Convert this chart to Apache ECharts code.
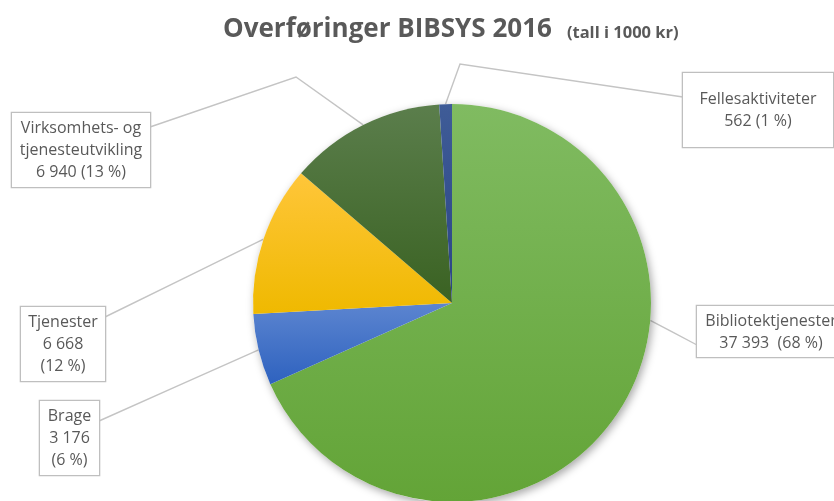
<!DOCTYPE html>
<html>
<head>
<meta charset="utf-8">
<title>Overføringer BIBSYS 2016</title>
<script src="https://cdn.jsdelivr.net/npm/echarts@6/dist/echarts.min.js"></script>
<style>
  html, body { margin: 0; padding: 0; background: #fff; }
  #chart { width: 834px; height: 501px; }
</style>
</head>
<body>
<div id="chart"></div>
<script>
// tall i 1000 kr
var categories = ['Bibliotektjenester', 'Brage', 'Tjenester', 'Virksomhets- og\ntjenesteutvikling', 'Fellesaktiviteter'];
var values = [37393, 3176, 6668, 6940, 562];
// narrow boxes put the percent on its own line
var percentOwnLine = [false, true, true, false, false];

// gradient colours, top -> bottom
var colorTop = ['#80bb61', '#5c85d0', '#ffc63a', '#5b7e4c', '#3f5c97'];
var colorBottom = ['#63a437', '#2e62bf', '#efb900', '#3a6222', '#2a4485'];

// label boxes: centre x, top y, content width, padding
var boxes = [
    {x: 771, y: 306, w: 134, pad: [4, 7, 3, 7]},
    {x: 69.5, y: 401, w: 47, pad: [4, 6]},
    {x: 63, y: 307, w: 72, pad: [4, 6]},
    {x: 81, y: 113, w: 126, pad: [4, 6]},
    {x: 758, y: 73, w: 126, pad: [15, 12]}
];
// leader lines: end on the box, optional knee, optional start angle on the rim
var guides = [
    {end: [697, 345], knee: null, angle: 95},
    {end: [99, 421], knee: null},
    {end: [105, 317], knee: null},
    {end: [150, 127], knee: [296, 77]},
    {end: [683, 97], knee: [460, 64]}
];

var cx = 452, cy = 303, r = 199;
var total = values.reduce(function (a, b) { return a + b; }, 0);

function fmt(n) {
    return String(n).replace(/\B(?=(\d{3})+(?!\d))/g, ' ');
}

var myChart = echarts.init(document.getElementById('chart'));

let data = values.map(function (v, i) {
    return {
        name: categories[i],
        value: v,
        itemStyle: {
            color: new echarts.graphic.LinearGradient(0, 0, 0, 1, [
                {offset: 0, color: colorTop[i]},
                {offset: 1, color: colorBottom[i]}
            ])
        },
        label: {
            width: boxes[i].w,
            padding: boxes[i].pad
        }
    };
});

let option = {
    backgroundColor: '#fff',
    animation: false,
    title: {
        text: '{a|Overføringer BIBSYS 2016}{b|(tall i 1000 kr)}',
        left: 218,
        top: 12,
        textStyle: {
            rich: {
                a: {fontFamily: 'Open Sans', fontWeight: 'bold', fontSize: 26, color: '#595959'},
                b: {fontFamily: 'Open Sans', fontWeight: 'bold', fontSize: 16.5, color: '#595959', padding: [7, 0, 0, 15]}
            }
        }
    },
    series: [
        {
            // soft shadow under the whole pie
            type: 'pie',
            center: [cx, cy],
            radius: r,
            silent: true,
            data: [{value: total}],
            label: {show: false},
            labelLine: {show: false},
            itemStyle: {
                color: '#fff',
                shadowBlur: 8,
                shadowColor: 'rgba(0,0,0,0.35)',
                shadowOffsetX: 2,
                shadowOffsetY: 3
            }
        },
        {
            type: 'pie',
            center: [cx, cy],
            radius: r,
            startAngle: 90,
            clockwise: true,
            percentPrecision: 0,
            avoidLabelOverlap: false,
            data: data,
            label: {
                show: true,
                position: 'outside',
                color: '#595959',
                fontFamily: 'Open Sans',
                fontSize: 16,
                lineHeight: 22,
                align: 'center',
                overflow: 'none',
                backgroundColor: '#fff',
                borderColor: '#bfbfbf',
                borderWidth: 1.3,
                formatter: function (p) {
                    let sep = percentOwnLine[p.dataIndex] ? '\n' : (p.dataIndex === 0 ? '  ' : ' ');
                    return p.name + '\n' + fmt(p.value) + sep + '(' + p.percent + ' %)';
                }
            },
            labelLine: {
                show: true,
                lineStyle: {color: '#c4c4c4', width: 1.4}
            },
            labelLayout: function (p) {
                let b = boxes[p.dataIndex];
                let g = guides[p.dataIndex];
                let start = p.labelLinePoints ? p.labelLinePoints[0] : [cx, cy];
                if (g.angle != null) {
                    let a = g.angle * Math.PI / 180;
                    start = [cx + r * Math.sin(a), cy - r * Math.cos(a)];
                }
                let knee = g.knee || [(start[0] + g.end[0]) / 2, (start[1] + g.end[1]) / 2];
                return {
                    x: b.x,
                    y: b.y,
                    align: 'center',
                    verticalAlign: 'top',
                    labelLinePoints: [start, knee, g.end]
                };
            }
        }
    ]
};
myChart.setOption(option);
</script>
</body>
</html>
